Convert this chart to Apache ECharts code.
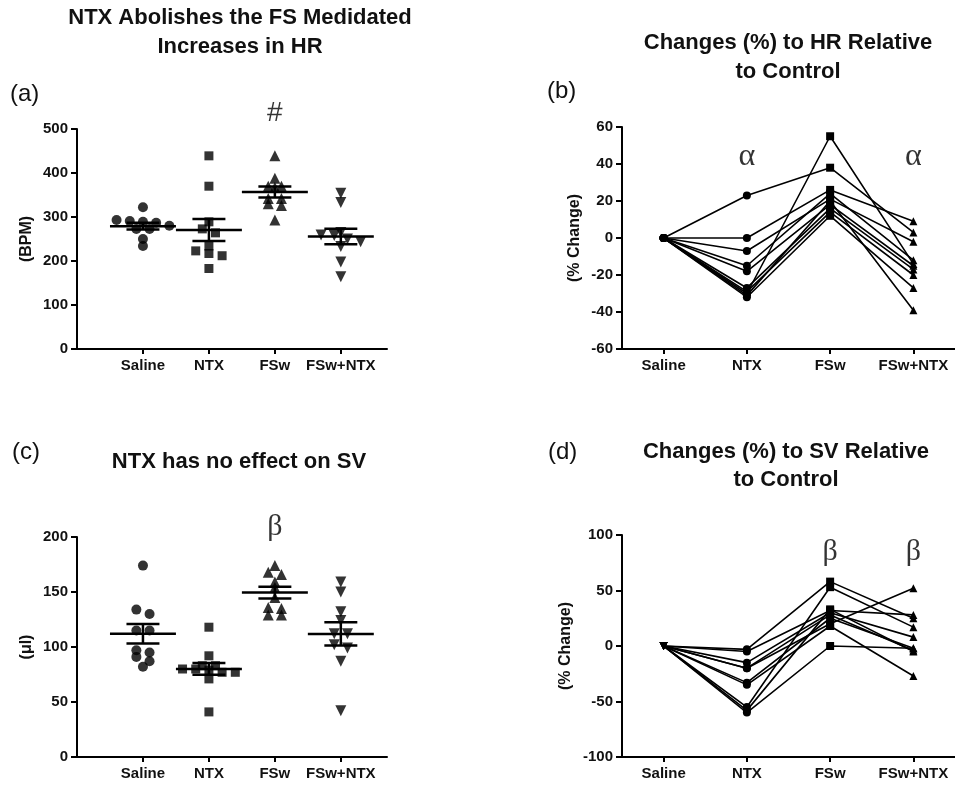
<!DOCTYPE html>
<html>
<head>
<meta charset="utf-8">
<script src="https://cdn.jsdelivr.net/npm/echarts@6/dist/echarts.min.js"></script>
<style>
  html, body { margin: 0; padding: 0; background: #fff; }
  #chart { width: 955px; height: 785px; }
</style>
</head>
<body>
<div id="chart"></div>
<script>
const groups = ['Saline', 'NTX', 'FSw', 'FSw+NTX'];

// (a) heart rate, BPM
const hrSaline = [322, 293, 291, 289, 287, 280, 273, 273, 250, 234];
const hrNtx = [439, 370, 289, 273, 264, 234, 223, 217, 212, 183];
const hrFsw = [439, 388, 370, 370, 367, 342, 342, 330, 326, 293];
const hrFswNtx = [354, 333, 265, 259, 258, 250, 244, 233, 198, 164];

// (b) % change in HR per animal (Saline is the 0 reference)
const hrPctNtx = [23, 0, -7, -15, -18, -27, -29, -30, -31, -32];
const hrPctFsw = [38, 26, 21, 24, 18, 16, 14, 55, 20, 12];
const hrPctFswNtx = [3, 9, -2, -12, -15, -17, -20, -14, -39, -27];

// (c) stroke volume, ul
const svSaline = [174, 134, 130, 115, 115, 97, 95, 91, 87, 82];
const svNtx = [118, 92, 83, 83, 80, 80, 79, 77, 77, 71, 41];
const svFsw = [174, 168, 166, 159, 154, 145, 136, 135, 129, 129];
const svFswNtx = [159, 150, 132, 124, 112, 112, 102, 99, 87, 42];

// (d) % change in SV per animal
const svPctNtx = [-3, -5, -15, -20, -33, -35, -55, -58, -60, -20];
const svPctFsw = [58, 32, 30, 20, 25, 18, 53, 33, 0, 28];
const svPctFswNtx = [25, 28, 8, 52, -2, -27, 17, -5, -2, -4];

// significance marks: [group position, level]
const markA = [[3, 536]];
const markB = [[2, 44], [4, 44]];
const markC = [[3, 209]];
const markD = [[3, 85], [4, 85]];

const FONT = 'Liberation Sans, Arial, sans-serif';
const SERIF = 'Liberation Serif, DejaVu Serif, serif';
const INK = '#111';
const symbols = ['circle', 'rect', 'triangle', 'triangle'];
const rotations = [0, 0, 0, 180];
const sizes = [10, 9, 11, 11];

// spread points sharing a value band side by side, like a column scatter
function swarm(values, center, band, step) {
  const rows = {};
  values.forEach((v) => {
    const key = Math.round(v / band);
    (rows[key] = rows[key] || []).push(v);
  });
  const out = [];
  Object.values(rows).forEach((row) => {
    row.forEach((v, k) => out.push([center + (k - (row.length - 1) / 2) * step, v]));
  });
  return out;
}

function meanSem(values) {
  const n = values.length;
  const mean = values.reduce((s, v) => s + v, 0) / n;
  const sd = Math.sqrt(values.reduce((s, v) => s + (v - mean) ** 2, 0) / (n - 1));
  const sem = sd / Math.sqrt(n);
  return [mean, mean - sem, mean + sem];
}

function renderMean(params, api) {
  const x = api.value(0);
  const pm = api.coord([x, api.value(1)]);
  const pl = api.coord([x, api.value(2)]);
  const ph = api.coord([x, api.value(3)]);
  const unit = api.size([1, 0])[0];
  const half = unit * 0.5;
  const cap = unit * 0.25;
  const style = { stroke: '#000', lineWidth: 2.5 };
  return {
    type: 'group',
    children: [
      { type: 'line', shape: { x1: pm[0] - half, y1: pm[1], x2: pm[0] + half, y2: pm[1] }, style },
      { type: 'line', shape: { x1: pl[0], y1: pl[1], x2: ph[0], y2: ph[1] }, style },
      { type: 'line', shape: { x1: pl[0] - cap, y1: pl[1], x2: pl[0] + cap, y2: pl[1] }, style },
      { type: 'line', shape: { x1: ph[0] - cap, y1: ph[1], x2: ph[0] + cap, y2: ph[1] }, style },
    ],
  };
}

function dotSeries(gridIndex, sets, band) {
  const series = sets.map((values, g) => ({
    type: 'scatter',
    xAxisIndex: gridIndex,
    yAxisIndex: gridIndex,
    symbol: symbols[g],
    symbolRotate: rotations[g],
    symbolSize: sizes[g],
    itemStyle: { color: '#000' },
    silent: true,
    data: swarm(values, g + 1, band, 0.2),
  }));
  series.push({
    type: 'custom',
    xAxisIndex: gridIndex,
    yAxisIndex: gridIndex,
    renderItem: renderMean,
    silent: true,
    z: 5,
    data: sets.map((values, g) => [g + 1, ...meanSem(values)]),
  });
  return series;
}

function pairedSeries(gridIndex, ntx, fsw, fswNtx, firstSymbol) {
  const cols = [ntx.map(() => 0), ntx, fsw, fswNtx];
  const marks = [firstSymbol, 'circle', 'rect', 'triangle'];
  return ntx.map((_, i) => ({
    type: 'line',
    xAxisIndex: gridIndex,
    yAxisIndex: gridIndex,
    silent: true,
    symbolSize: 8,
    lineStyle: { color: '#000', width: 1.6 },
    itemStyle: { color: '#000' },
    data: cols.map((col, g) => ({
      value: [g + 1, col[i]],
      symbol: g === 0 && firstSymbol === 'down' ? 'triangle' : marks[g],
      symbolRotate: g === 0 && firstSymbol === 'down' ? 180 : 0,
    })),
  }));
}

function markSeries(gridIndex, points, text, font, size) {
  return {
    type: 'scatter',
    xAxisIndex: gridIndex,
    yAxisIndex: gridIndex,
    symbolSize: 1,
    itemStyle: { color: 'transparent' },
    clip: false,
    silent: true,
    label: {
      show: true,
      position: 'inside',
      formatter: text,
      fontFamily: font,
      fontSize: size,
      color: '#000',
    },
    data: points,
  };
}

const axisLine = { show: true, onZero: false, lineStyle: { color: '#000', width: 2 } };
const tickLabel = { color: INK, fontFamily: FONT, fontWeight: 'bold', fontSize: 15 };

function xAxisFor(gridIndex, min, max) {
  return {
    gridIndex,
    type: 'value',
    min,
    max,
    axisLine,
    axisTick: { show: true, customValues: [1, 2, 3, 4], length: 5, lineStyle: { color: '#000', width: 2 } },
    axisLabel: { ...tickLabel, customValues: [1, 2, 3, 4], margin: 9, formatter: (v) => groups[Math.round(v) - 1] || '' },
    splitLine: { show: false },
  };
}

function yAxisFor(gridIndex, min, max, interval, name, gap) {
  return {
    gridIndex,
    type: 'value',
    min,
    max,
    interval,
    name,
    nameLocation: 'middle',
    nameGap: gap,
    nameTextStyle: { color: INK, fontFamily: FONT, fontWeight: 'bold', fontSize: 16 },
    axisLine,
    axisTick: { show: true, length: 6, lineStyle: { color: '#000', width: 2 } },
    axisLabel: { ...tickLabel, margin: 9 },
    splitLine: { show: false },
  };
}

function text(x, y, str, opts) {
  return {
    type: 'text',
    x,
    y,
    style: {
      text: str,
      fill: INK,
      font: opts.font,
      textAlign: opts.align || 'center',
      textVerticalAlign: 'middle',
      lineHeight: opts.lineHeight || 28,
    },
  };
}

const titleFont = 'bold 22px ' + FONT;
const letterFont = '24px ' + FONT;

const chart = echarts.init(document.getElementById('chart'), null, { renderer: 'canvas' });
chart.setOption({
  backgroundColor: '#fff',
  animation: false,
  grid: [
    { left: 77, top: 129, width: 310, height: 220, containLabel: false, outerBoundsMode: 'none' },
    { left: 622, top: 127, width: 333, height: 222, containLabel: false, outerBoundsMode: 'none' },
    { left: 77, top: 537, width: 310, height: 220, containLabel: false, outerBoundsMode: 'none' },
    { left: 622, top: 535, width: 333, height: 222, containLabel: false, outerBoundsMode: 'none' },
  ],
  xAxis: [
    xAxisFor(0, 0, 4.7),
    xAxisFor(1, 0.5, 4.5),
    xAxisFor(2, 0, 4.7),
    xAxisFor(3, 0.5, 4.5),
  ],
  yAxis: [
    yAxisFor(0, 0, 500, 100, '(BPM)', 42),
    yAxisFor(1, -60, 60, 20, '(% Change)', 39),
    yAxisFor(2, 0, 200, 50, '(\u03bcl)', 42),
    yAxisFor(3, -100, 100, 50, '(% Change)', 48),
  ],
  graphic: [
    text(240, 32, 'NTX Abolishes the FS Medidated\nIncreases in HR', { font: titleFont, lineHeight: 29 }),
    text(10, 94, '(a)', { font: letterFont, align: 'left' }),
    text(788, 57, 'Changes (%) to HR Relative\nto Control', { font: titleFont, lineHeight: 29 }),
    text(547, 91, '(b)', { font: letterFont, align: 'left' }),
    text(239, 462, 'NTX has no effect on SV', { font: titleFont }),
    text(12, 452, '(c)', { font: letterFont, align: 'left' }),
    text(786, 466, 'Changes (%) to SV Relative\nto Control', { font: titleFont, lineHeight: 28 }),
    text(548, 452, '(d)', { font: letterFont, align: 'left' }),
  ],
  series: [
    ...dotSeries(0, [hrSaline, hrNtx, hrFsw, hrFswNtx], 18),
    ...pairedSeries(1, hrPctNtx, hrPctFsw, hrPctFswNtx, 'circle'),
    ...dotSeries(2, [svSaline, svNtx, svFsw, svFswNtx], 6),
    ...pairedSeries(3, svPctNtx, svPctFsw, svPctFswNtx, 'down'),
    markSeries(0, markA, '#', FONT, 28),
    markSeries(1, markB, '\u03b1', SERIF, 32),
    markSeries(2, markC, '\u03b2', SERIF, 30),
    markSeries(3, markD, '\u03b2', SERIF, 30),
  ],
});
</script>
</body>
</html>
